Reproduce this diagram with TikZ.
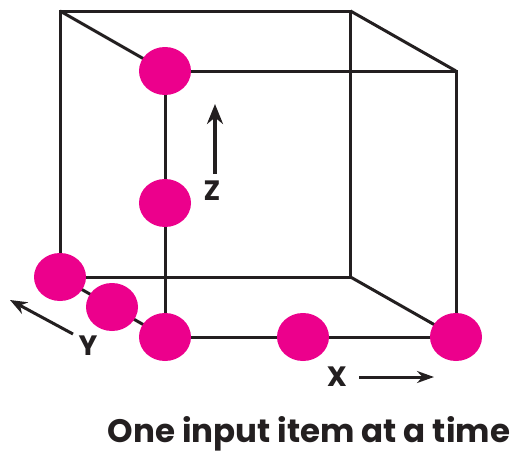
\documentclass[tikz,border=0pt]{standalone}
\usepackage{fontspec}
\setmainfont{Poppins}[UprightFont=* Bold]
\usetikzlibrary{shapes.geometric,arrows.meta}
\definecolor{edgegray}{HTML}{231F20}
\definecolor{ballpink}{HTML}{EC008C}
\tikzset{
  edge/.style={draw=edgegray, line width=3pt},
  ball/.style={ellipse, fill=ballpink, minimum width=52pt, minimum height=48pt, inner sep=0pt},
  axis/.style={draw=edgegray, line width=4pt, -{Stealth[length=20pt,width=16pt]}},
  axlabel/.style={font=\fontsize{28}{28}\selectfont, text=edgegray, inner sep=0pt},
}
\begin{document}
\begin{tikzpicture}[x=1pt,y=-1pt]
\useasboundingbox (0,0) rectangle (515,453);
% back face corners
\coordinate (btl) at (60,11);
\coordinate (btr) at (350.5,11);
\coordinate (bbr) at (350.5,277);
\coordinate (bbl) at (60,277);
% front face corners
\coordinate (ftl) at (165,71);
\coordinate (ftr) at (456,71);
\coordinate (fbr) at (456,337);
\coordinate (fbl) at (165,337);
% edges
\draw[edge] (bbl) -- (btl) -- (btr) -- (bbr) -- cycle;
\draw[edge] (fbl) -- (ftl) -- (ftr) -- (fbr) -- cycle;
\draw[edge] (btl) -- (ftl);
\draw[edge] (btr) -- (ftr);
\draw[edge] (bbr) -- (fbr);
\draw[edge] (bbl) -- (fbl);
% balls
\node[ball] (b1) at (ftl) {};
\node[ball] (b2) at (165,203) {};
\node[ball] (b3) at (bbl) {};
\node[ball] (b4) at (112,307) {};
\node[ball] (b5) at (fbl) {};
\node[ball] (b6) at (303,337) {};
\node[ball] (b7) at (fbr) {};
% axes
\coordinate (zs) at (215,174);
\coordinate (ze) at (215,104);
\draw[axis] (zs) -- (ze);
\node[axlabel] (zl) at (212,191) {Z};
\coordinate (ys) at (73,334);
\coordinate (ye) at (10,300);
\draw[axis, line width=3pt, -{Stealth[length=17pt,width=13pt]}] (ys) -- (ye);
\node[axlabel] (yl) at (88,346) {Y};
\coordinate (xs) at (359,377);
\coordinate (xe) at (434,377);
\draw[axis, line width=3pt, -{Stealth[length=17pt,width=12pt]}] (xs) -- (xe);
\node[axlabel] (xl) at (337,377) {X};
% caption
\node[text=edgegray, inner sep=0pt, anchor=base] (cap) at (309,442) {\resizebox{402pt}{!}{One input item at a time}};
\end{tikzpicture}
\end{document}
